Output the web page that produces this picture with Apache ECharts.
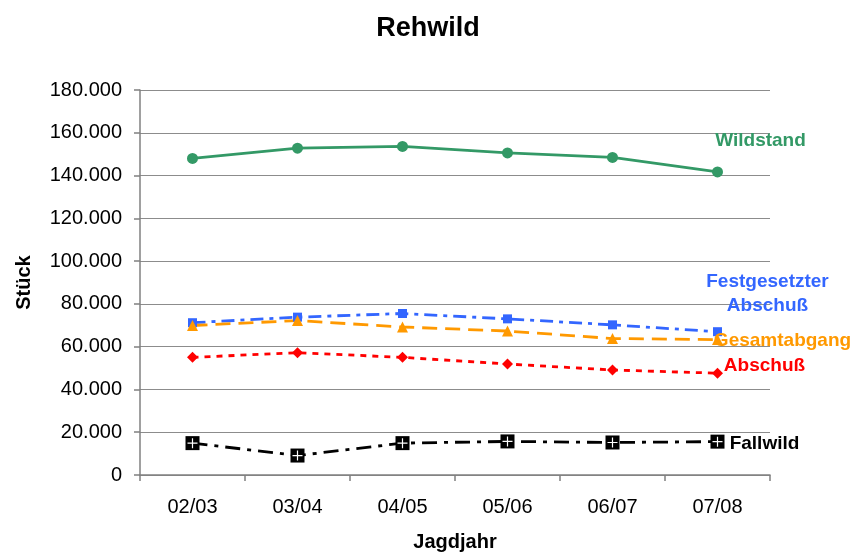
<!DOCTYPE html>
<html>
<head>
<meta charset="utf-8">
<script src="https://cdn.jsdelivr.net/npm/echarts@6/dist/echarts.min.js"></script>
<style>
  html, body { margin: 0; padding: 0; background: #fff; }
  #chart { width: 856px; height: 557px; }
</style>
</head>
<body>
<div id="chart"></div>
<script>
// Jagdjahre (hunting years)
const jagdjahre = ['02/03', '03/04', '04/05', '05/06', '06/07', '07/08'];

// Roe deer figures per hunting year (Stück)
const wildstand = [148000, 152800, 153600, 150600, 148500, 141700];
const festgesetzterAbschuss = [71200, 73800, 75500, 73000, 70200, 67000];
const gesamtabgang = [69900, 72200, 69200, 67300, 63800, 63300];
const abschuss = [55000, 57200, 55000, 51900, 49100, 47600];
const fallwild = [14900, 9100, 14900, 15700, 15200, 15600];

const yTicks = [0, 20000, 40000, 60000, 80000, 100000, 120000, 140000, 160000, 180000];

const FONT = 'Liberation Sans, Arial, Helvetica, sans-serif';

function fmtThousands(v) {
  return String(v).replace(/\B(?=(\d{3})+(?!\d))/g, '.');
}

// label attached to the last point of a series, naming the series
function endLabel(text, color, offset) {
  return function (idx, len) {
    return {
      show: idx === len - 1,
      position: 'inside',
      offset: offset,
      formatter: text,
      color: color,
      fontFamily: FONT,
      fontWeight: 'bold',
      fontSize: 19,
      lineHeight: 24,
      align: 'center',
      verticalAlign: 'middle'
    };
  };
}

function withEndLabel(values, labelFn) {
  return values.map((v, i) => ({ value: v, label: labelFn(i, values.length) }));
}

const chart = echarts.init(document.getElementById('chart'), null, { renderer: 'canvas' });

chart.setOption({
  backgroundColor: '#ffffff',
  animation: false,
  title: {
    text: 'Rehwild',
    left: 'center',
    top: 10,
    textStyle: { fontFamily: FONT, fontWeight: 'bold', fontSize: 27, color: '#000' }
  },
  grid: { left: 140, right: 86, top: 90, bottom: 78 },
  xAxis: {
    type: 'category',
    data: jagdjahre,
    boundaryGap: true,
    name: 'Jagdjahr',
    nameLocation: 'middle',
    nameGap: 57,
    nameTextStyle: { fontFamily: FONT, fontWeight: 'bold', fontSize: 20, color: '#000' },
    axisLine: { show: true, lineStyle: { color: '#808080', width: 1.5 } },
    axisTick: { show: true, length: 6, inside: false, lineStyle: { color: '#808080', width: 1.5 } },
    axisLabel: { fontFamily: FONT, fontSize: 20, color: '#000', margin: 22 },
    splitLine: { show: false }
  },
  yAxis: {
    type: 'value',
    min: 0,
    max: 180000,
    interval: 20000,
    name: 'Stück',
    nameLocation: 'middle',
    nameGap: 106,
    nameRotate: 90,
    nameTextStyle: { fontFamily: FONT, fontWeight: 'bold', fontSize: 20, color: '#000' },
    axisLine: { show: true, lineStyle: { color: '#808080', width: 1.5 } },
    axisTick: { show: true, length: 6, inside: false, lineStyle: { color: '#808080', width: 1.5 } },
    axisLabel: {
      fontFamily: FONT, fontSize: 20, color: '#000', margin: 18,
      formatter: v => (yTicks.indexOf(v) >= 0 ? fmtThousands(v) : '')
    },
    splitLine: { show: true, lineStyle: { color: '#8c8c8c', width: 1.2 } }
  },
  series: [
    {
      name: 'Wildstand',
      type: 'line',
      data: withEndLabel(wildstand, endLabel('Wildstand', '#339966', [43, -31])),
      symbol: 'circle',
      symbolSize: 11,
      itemStyle: { color: '#339966' },
      lineStyle: { color: '#339966', width: 2.8 },
      z: 5
    },
    {
      name: 'Festgesetzter Abschuß',
      type: 'line',
      data: withEndLabel(festgesetzterAbschuss, endLabel('Festgesetzter\nAbschuß', '#3366ff', [50, -38])),
      symbol: 'rect',
      symbolSize: 9,
      itemStyle: { color: '#3366ff' },
      lineStyle: { color: '#3366ff', width: 2.8, type: [13, 6, 4, 6] },
      z: 4
    },
    {
      name: 'Gesamtabgang',
      type: 'line',
      data: withEndLabel(gesamtabgang, endLabel('Gesamtabgang', '#ff9900', [65, 1])),
      symbol: 'triangle',
      symbolSize: 11,
      itemStyle: { color: '#ff9900' },
      lineStyle: { color: '#ff9900', width: 2.8, type: [15, 8] },
      z: 4
    },
    {
      name: 'Abschuß',
      type: 'line',
      data: withEndLabel(abschuss, endLabel('Abschuß', '#ff0000', [47, -7])),
      symbol: 'diamond',
      symbolSize: 11,
      itemStyle: { color: '#ff0000' },
      lineStyle: { color: '#ff0000', width: 2.8, type: [6, 6] },
      z: 4
    },
    {
      name: 'Fallwild',
      type: 'line',
      data: withEndLabel(fallwild, endLabel('Fallwild', '#000000', [47, 2])),
      symbol: 'rect',
      symbolSize: 14,
      itemStyle: { color: '#000000' },
      lineStyle: { color: '#000000', width: 2.8, type: [15, 7, 4, 7] },
      z: 4
    },
    {
      // white cross drawn on top of the Fallwild square markers
      name: 'Fallwild-Kreuz',
      type: 'line',
      data: fallwild,
      symbol: 'path://M4.4,0 L5.6,0 L5.6,4.4 L10,4.4 L10,5.6 L5.6,5.6 L5.6,10 L4.4,10 L4.4,5.6 L0,5.6 L0,4.4 L4.4,4.4 Z',
      symbolSize: 10,
      itemStyle: { color: '#ffffff' },
      lineStyle: { width: 0, opacity: 0 },
      silent: true,
      z: 6
    }
  ]
});
</script>
</body>
</html>
